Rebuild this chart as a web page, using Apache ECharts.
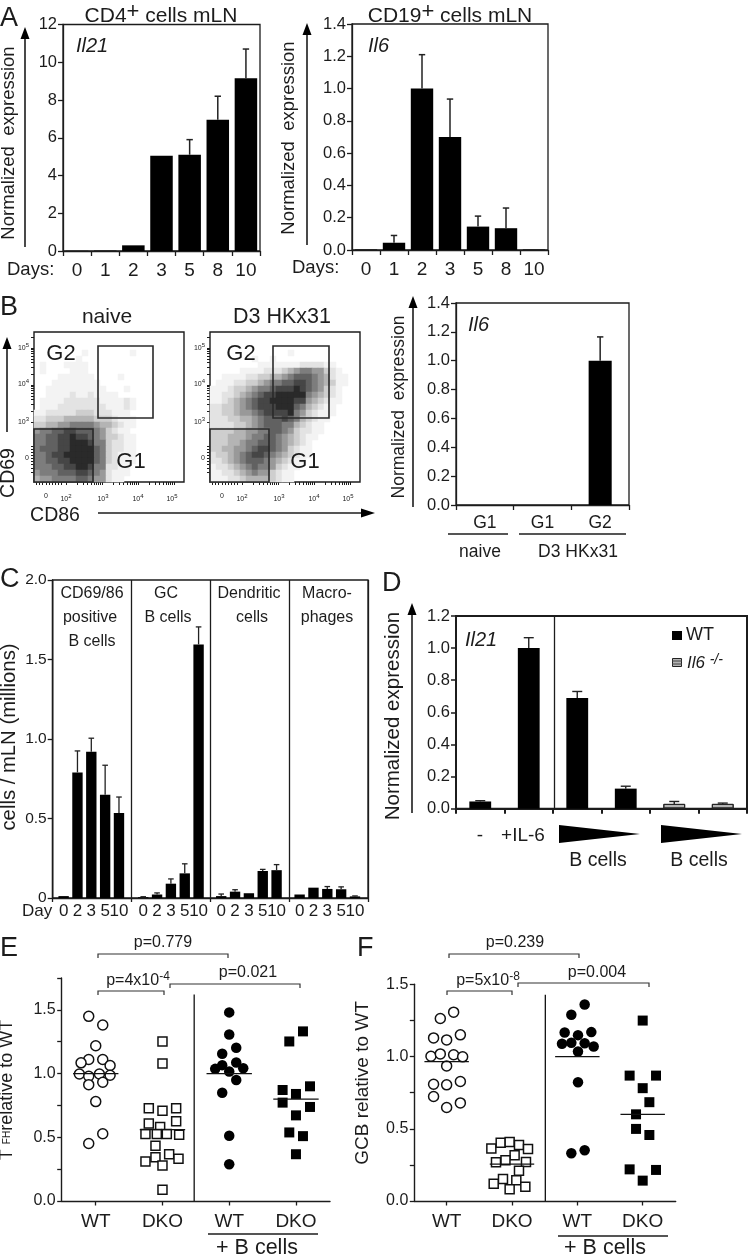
<!DOCTYPE html>
<html><head><meta charset="utf-8">
<style>html,body{margin:0;padding:0;background:#fff}#c{width:750px;height:1256px}</style>
<script src="https://cdn.jsdelivr.net/npm/echarts@6/dist/echarts.min.js"></script>
</head><body><div id="c"></div>
<script>
// ---------- Panel A ----------
const aDays = ['0','1','2','3','5','8','10'];
const aIl21 = [0.01,0.02,0.3,5.05,5.1,6.95,9.15];
const aIl21Top = [null,null,null,null,5.9,8.2,10.7];
const aIl6 = [0.003,0.045,1.0,0.7,0.145,0.135,0.003];
const aIl6Top = [null,0.09,1.21,0.935,0.21,0.26,null];
// ---------- Panel B: dot-plot density read by eye, digit = darkness 0..9, top row first ----------
const naiveDensity = [
'0000000000000000000000000','0000000000000000000000000','0000000000000000000000000',
'0000000010000000100000000','0000000100000000000000000','0100011110000000000000000',
'0100001110000000000000000','0000111111000010000000000','0001111111100000000000000',
'0011111111110001000000000','0011112112111100000000000','0111122222211112100000000',
'0111222222221112100000000','1122222333222111000000000','2233344444333211100000000',
'3344556666544321100000000','5667788777653211000000000','6677889887653321100000000',
'6677889998663221100000000','6777889999763221100000000','6678899999763211100000000',
'6677889999763211100000000','6667788998662211000000000','5666777887652111000000000',
'4556666776552110000000000'];
const d3Density = [
'0000000000000000000000000','0000000000000000000000000','0000000000000000000000000',
'0000000000000100000000000','0000000100100000000000000','0000000011111112222110000',
'0000011112223456655321000','0011112233445677765421100','0111223345667788765431100',
'1112334566788898765321000','1122345678899999654321000','1123456788999988543211000',
'2233456788899976432110000','2233455678888965321110000','2223344567778764321100000',
'2222334567776643211000000','3333445566776532211000000','3334445667765432110000000',
'3334456677765432100000000','3344556788765321100000000','2334567887654321100000000',
'2234567776543211000000000','1223456766532110000000000','1122345655321100000000000',
'1112234444321100000000000'];
const bGroups = ['G1','G1','G2'];
const bIl6 = [0,0,1.0];
const bIl6Top = [null,null,1.165];
// ---------- Panel C ----------
const cDays = ['0','2','3','5','10'];
const cCd6986 = [0.012,0.79,0.92,0.65,0.535];
const cCd6986Top = [null,0.925,1.005,0.835,0.635];
const cGc = [0.005,0.022,0.09,0.155,1.595];
const cGcTop = [0.008,0.032,0.12,0.215,1.705];
const cDend = [0.012,0.04,0.03,0.17,0.175];
const cDendTop = [0.025,0.052,null,0.18,0.21];
const cMacro = [0.022,0.065,0.057,0.055,0.01];
const cMacroTop = [null,null,0.072,0.07,0.013];
// ---------- Panel D ----------
const dCategories = ['-','+IL-6','B1','B2','B3','B4'];
const dWT = [0.045,1.0,0.69,0.125,null,null];
const dKO = [null,null,null,null,0.03,0.03];
const dTop = [0.05,1.065,0.73,0.14,0.045,0.035];
// ---------- Panel E ----------
const eGroups = {1:'WT',2:'DKO',3:'WT',4:'DKO'};
const eWTx = [0.895,1.105,1,0.895,1.105,0.78,1.215,0.755,0.895,1.055,1.215,0.895,1.105,1,1.105,0.895];
const eWTy = [1.449,1.381,1.218,1.11,1.11,1.084,1.063,0.997,0.979,0.997,0.987,0.913,0.932,0.78,0.528,0.451];
const eKOx = [2,2,1.795,2,2.205,1.795,2.205,1.965,1.745,1.915,2.065,2.25,1.895,1.895,2.1,1.745,2.24,2,2];
const eKOy = [1.252,1.079,0.727,0.709,0.727,0.609,0.625,0.58,0.525,0.525,0.525,0.52,0.433,0.344,0.367,0.31,0.331,0.278,0.089];
const eBWTx = [3,3,3.105,2.895,2.895,3.105,2.79,3,3.21,3.105,2.895,3,3];
const eBWTy = [1.48,1.307,1.202,1.155,1.066,1.087,1.037,1.016,1.042,0.95,0.85,0.512,0.289];
const eBKOx = [4.105,3.9,3.8,4.21,4,3.8,4.21,4,3.9,4.105,4];
const eBKOy = [1.331,1.252,0.871,0.9,0.84,0.772,0.738,0.672,0.538,0.509,0.367];
const eMeans = [1.0,0.56,1.0,0.8];
// ---------- Panel F ----------
const fWTx = [0.903,1.107,0.8,1,1.21,0.76,0.903,1.107,1.245,1,0.8,1,1.21,0.8,1.21,1];
const fWTy = [1.263,1.307,1.129,1.115,1.15,1.002,1.018,1.012,0.998,0.935,0.808,0.804,0.827,0.723,0.679,0.647];
const fKOx = [1.684,1.827,1.964,2.107,2.245,2.04,1.9,1.755,2.214,2.107,1.862,2.066,1.72,2.204,1.964];
const fKOy = [0.363,0.404,0.409,0.388,0.36,0.316,0.282,0.268,0.27,0.21,0.152,0.143,0.12,0.099,0.081];
const fBWTx = [3.112,2.908,2.806,3.01,3.214,2.765,2.908,3.112,3.25,3.01,3.01,3.112,2.908];
const fBWTy = [1.36,1.289,1.166,1.148,1.169,1.088,1.095,1.092,1.069,1.035,0.822,0.351,0.33];
const fBKOx = [4,3.8,4.204,4,4.102,3.898,3.898,4.102,3.8,4.204,4];
const fBKOy = [1.249,0.868,0.868,0.781,0.684,0.6,0.499,0.457,0.219,0.215,0.141];
const fMeans = [0.965,0.255,1.0,0.6];

// ---------- helpers ----------
const INK = '#1c1c1c', FONT = '"Liberation Sans", Arial, sans-serif';
const grid=[], xAxis=[], yAxis=[], series=[], graphic=[];
const lineS = (w=1.3)=>({show:true,lineStyle:{color:INK,width:w}});
const tickS = (len=5,w=1.3)=>({show:true,length:len,lineStyle:{color:INK,width:w}});
const labS = (size,margin=6)=>({show:true,color:INK,fontSize:size,fontFamily:FONT,margin});
function addGrid(left,top,right,bottom,border=1.3,show=true){
  grid.push({left,top,width:right-left,height:bottom-top,show,borderColor:INK,borderWidth:border,backgroundColor:'transparent'});
  return grid.length-1;
}
function valY(g,max,interval,size,fmt,w=1.3){
  yAxis.push({type:'value',gridIndex:g,min:0,max,interval,axisLine:lineS(w),axisTick:tickS(5,w),splitLine:{show:false},
    axisLabel:Object.assign(labS(size,6),{formatter:fmt||(v=>v.toFixed(1))})});
  return yAxis.length-1;
}
function catX(g,data,size,labelShow=true,w=1.3,margin=10){
  xAxis.push({type:'category',gridIndex:g,data,axisLine:lineS(w),axisTick:Object.assign(tickS(5,w),{alignWithLabel:false}),
    splitLine:{show:false},axisLabel:Object.assign(labS(size,margin),{show:labelShow,interval:0,hideOverlap:false})});
  return xAxis.length-1;
}
function bars(xi,yi,data,gap,color='#000',extra={}){
  series.push(Object.assign({type:'bar',xAxisIndex:xi,yAxisIndex:yi,data,barCategoryGap:gap,
    itemStyle:{color},z:3},extra));
}
function errors(xi,yi,base,tops,cap=3.2,w=1.5){
  const data=[]; tops.forEach((t,i)=>{ if(t!=null) data.push([i,base[i]==null?0:base[i],t]); });
  series.push({type:'custom',xAxisIndex:xi,yAxisIndex:yi,z:4,clip:false,data,encode:{x:0,y:[1,2]},
    renderItem(p,api){
      const a=api.coord([api.value(0),api.value(1)]), b=api.coord([api.value(0),api.value(2)]);
      const st={stroke:'#222',lineWidth:w,fill:null};
      return {type:'group',children:[
        {type:'line',shape:{x1:a[0],y1:a[1],x2:b[0],y2:b[1]},style:st},
        {type:'line',shape:{x1:b[0]-cap,y1:b[1],x2:b[0]+cap,y2:b[1]},style:st}]};
    }});
}
function T(x,y,text,size,o={}){
  graphic.push({type:'text',x,y,rotation:o.rot||0,z:100,silent:true,style:{text,fill:o.fill||INK,
    font:(o.italic?'italic ':'')+size+'px '+FONT,align:o.align||'center',verticalAlign:'middle',rich:o.rich}});
}
const RV=Math.PI/2;
function L(x1,y1,x2,y2,w=1.3,c=INK){graphic.push({type:'line',z:100,silent:true,shape:{x1,y1,x2,y2},style:{stroke:c,lineWidth:w}});}
function arrowUp(x,tip,bottom){L(x,bottom,x,tip+8,1.6);
  graphic.push({type:'polygon',z:100,silent:true,shape:{points:[[x,tip],[x-4.5,tip+12],[x+4.5,tip+12]]},style:{fill:'#000'}});}
function bracket(x1,x2,y,leg=4){graphic.push({type:'polyline',z:100,silent:true,shape:{points:[[x1,y+leg],[x1,y],[x2,y],[x2,y+leg]]},style:{stroke:'#333',lineWidth:1.2,fill:null}});}
function rect(x,y,w,h,lw=1.6){graphic.push({type:'rect',z:100,silent:true,shape:{x,y,width:w,height:h},style:{stroke:'#2a2a2a',lineWidth:lw,fill:null}});}
function wedge(x1,x2,top,bot){const m=(top+bot)/2-0;graphic.push({type:'polygon',z:100,silent:true,shape:{points:[[x1,top],[x2,m],[x1,bot]]},style:{fill:'#000'}});}

// ---------- Panel A ----------
{ const g=addGrid(63,24.5,260,251), x=catX(g,aDays,19), y=valY(g,12,2,16.5,v=>String(v));
  bars(x,y,aIl21,'20%'); errors(x,y,aIl21,aIl21Top);
  const g2=addGrid(352,24,548,250), x2=catX(g2,aDays,19), y2=valY(g2,1.4,0.2,16.5);
  bars(x2,y2,aIl6,'20%'); errors(x2,y2,aIl6,aIl6Top);
}
T(0,19,'A',27,{align:'left'});
T(161,16,'CD4{s|+} cells mLN',21,{rich:{s:{fontSize:22,fontFamily:FONT,fill:INK,padding:[0,0,9,0]}}});
T(450,16,'CD19{s|+} cells mLN',21,{rich:{s:{fontSize:22,fontFamily:FONT,fill:INK,padding:[0,0,9,0]}}});
T(76,46,'Il21',20,{align:'left',italic:true});
T(368,46,'Il6',20,{align:'left',italic:true});
T(9,143,'Normalized  expression',18.5,{rot:RV});
T(289,138,'Normalized  expression',18.5,{rot:RV});
T(7,270,'Days:',18.5,{align:'left'});
T(292,268,'Days:',18.5,{align:'left'});
arrowUp(25,27,247); arrowUp(307,23,245);

// ---------- Panel B dot plots ----------
const cyto=[...Array(25).keys()].map(String);
const cytoLabel={12:'{b|0}',32:'{b|10}{s|2}',69:'{b|10}{s|3}',104:'{b|10}{s|4}',138:'{b|10}{s|5}',24:'{b|0}',60:'{b|10}{s|3}',98:'{b|10}{s|4}',134:'{b|10}{s|5}'};
const cytoXMajor=[12,32,69,104,138], cytoYMajor=[24,60,98,134];
const cytoDecade=[1,2,3,4,5,6,7,8,9].map(k=>Math.log10(k));
const cytoRich={b:{fontSize:7,fontFamily:FONT,color:INK},s:{fontSize:6,fontFamily:FONT,color:INK,padding:[0,0,6,0]}};
const heatIdx=[];
function density(left,top,rows){
  const g=addGrid(left,top,left+150,top+150,1.4);
  xAxis.push({type:'category',gridIndex:g,data:cyto,show:false}); const xc=xAxis.length-1;
  yAxis.push({type:'category',gridIndex:g,data:cyto,inverse:true,show:false}); const yc=yAxis.length-1;
  const data=[]; rows.forEach((r,j)=>[...r].forEach((c,i)=>{ if(c!=='0') data.push([i,j,+c]); }));
  heatIdx.push(series.length);
  series.push({type:'heatmap',xAxisIndex:xc,yAxisIndex:yc,data,z:1,itemStyle:{borderWidth:0}});
  const xt=[], yt=[];
  [-1,0,1,2,3].forEach(d=>cytoDecade.forEach(f=>{const v=32+36*d+36*f; if(v>=0&&v<=150&&d>=0) xt.push(v);}));
  [0,1,2].forEach(d=>cytoDecade.forEach(f=>{const v=60+37*d+37*f; if(v<=150) yt.push(v);}));
  xAxis.push({type:'value',gridIndex:g,min:0,max:150,position:'bottom',axisLine:{show:false},splitLine:{show:false},
    axisTick:{show:true,length:3,customValues:[2,5,8,12,15,18,21,24,27].concat(xt),lineStyle:{color:INK,width:1}},
    axisLabel:{show:true,customValues:cytoXMajor,margin:11,fontSize:7,rich:cytoRich,formatter:v=>cytoLabel[v]}});
  yAxis.push({type:'value',gridIndex:g,min:0,max:150,position:'left',axisLine:{show:false},splitLine:{show:false},
    axisTick:{show:true,length:3,customValues:[10,14,18,21,24,27,30,33,36].concat(yt),lineStyle:{color:INK,width:1}},
    axisLabel:{show:true,customValues:cytoYMajor,margin:5,fontSize:7,rich:cytoRich,formatter:v=>cytoLabel[v]}});
}
density(34,332,naiveDensity); density(210,332,d3Density);
rect(98,346,55,72); rect(34,429,59,53); rect(273,346,56,72); rect(210,429,59,53);
T(0,308,'B',27,{align:'left'});
T(107,317,'naive',21); T(282,317,'D3 HKx31',21.5);
T(61,354,'G2',22); T(131,462,'G1',22); T(241,354,'G2',22); T(305,462,'G1',22);
T(9,473,'CD69',19.5,{rot:RV}); T(55,516,'CD86',19.5);
arrowUp(7,337,432);
L(98,513,365,513,1.6);
graphic.push({type:'polygon',z:100,silent:true,shape:{points:[[375,513],[361,508.5],[361,517.5]]},style:{fill:'#000'}});

// ---------- Panel B bar ----------
{ const g=addGrid(456,303,629,505), x=catX(g,bGroups,17.5,true,1.3,9), y=valY(g,1.4,0.2,16.5);
  bars(x,y,bIl6,'60%'); errors(x,y,bIl6,bIl6Top); }
T(468,325,'Il6',20,{align:'left',italic:true});
T(399,407,'Normalized  expression',17.5,{rot:RV});
arrowUp(413,296,507);
L(448,534,508,534); L(519,534,626,534);
T(480,552,'naive',17.5); T(578,552,'D3 HKx31',17.5);

// ---------- Panel C ----------
{ const g=addGrid(52.7,580,368,898);
  xAxis.push({type:'value',gridIndex:g,min:0,max:4,interval:1,axisLine:lineS(),axisTick:tickS(4),
    axisLabel:{show:false},splitLine:{show:true,lineStyle:{color:INK,width:1.3}}});
  const xm=xAxis.length-1;
  const ym=valY(g,2,0.5,15.5,v=>v===0?'0':v.toFixed(1));
  series.push({type:'custom',xAxisIndex:xm,yAxisIndex:ym,data:[],renderItem(){return null;}});
  const secs=[[56.7,cCd6986,cCd6986Top],[136.3,cGc,cGcTop],[214.3,cDend,cDendTop],[292.7,cMacro,cMacroTop]];
  secs.forEach(([l,v,t])=>{
    const gi=addGrid(l,580,l+69.2,898,0,false);
    xAxis.push({type:'category',gridIndex:gi,data:cDays,axisLine:{show:false},axisTick:{show:false},splitLine:{show:false},
      axisLabel:Object.assign(labS(17,5),{interval:0,hideOverlap:false})});
    const xi=xAxis.length-1;
    yAxis.push({type:'value',gridIndex:gi,min:0,max:2,show:false}); const yi=yAxis.length-1;
    bars(xi,yi,v,'25%'); errors(xi,yi,v,t,2.8,1.3);
  });
}
T(0,580,'C',27,{align:'left'});
T(9,737,'cells / mLN (millions)',20.3,{rot:RV});
T(22,911,'Day',17,{align:'left'});
T(92,594,'CD69/86',16); T(90,618,'positive',16); T(92,642,'B cells',16);
T(166,594,'GC',16); T(168,618,'B cells',16);
T(249,594,'Dendritic',16); T(252,618,'cells',16);
T(327,594,'Macro-',16); T(327,618,'phages',16);

// ---------- Panel D ----------
{ const g=addGrid(456,616,747,808.7,2), x=catX(g,dCategories,18,false,2);
  const y=valY(g,1.2,0.2,16.5,null,1.5);
  bars(x,y,dWT,'55%','#000',{stack:'d'});
  bars(x,y,dKO,'55%','#b5b5b5',{stack:'d',itemStyle:{color:'#b5b5b5',borderColor:'#222',borderWidth:1,
    decal:{symbol:'rect',symbolSize:1,dashArrayX:[[1,0]],dashArrayY:[1,1.5],color:'#555'}}});
  errors(x,y,dTop.map((t,i)=>dWT[i]!=null?dWT[i]:dKO[i]),dTop,5,1.4);
}
L(554.5,616,554.5,808.7,1.3);
T(382,584,'D',27,{align:'left'});
T(465,640,'Il21',20,{align:'left',italic:true});
T(393,716,'Normalized expression',20.5,{rot:RV});
arrowUp(412,603,813);
graphic.push({type:'rect',z:100,silent:true,shape:{x:672,y:631,width:10,height:9},style:{fill:'#000'}});
graphic.push({type:'rect',z:100,silent:true,shape:{x:672.5,y:658.5,width:9,height:8},style:{fill:'#b5b5b5',stroke:'#222',lineWidth:1}});
L(672,661,682,661,1,'#444'); L(672,664,682,664,1,'#444');
T(686,635,'WT',18,{align:'left'});
T(687,663,'Il6 {s|-/-}',17,{align:'left',italic:true,rich:{s:{fontSize:14,fontFamily:FONT,fontStyle:'italic',fill:INK,padding:[0,0,6,0]}}});
T(480,836,'-',19); T(523,836,'+IL-6',19);
wedge(559,640,825,843); wedge(661,742,825,843);
T(598,861,'B cells',19.5); T(699,861,'B cells',19.5);

// ---------- Panels E, F ----------
function strip(g,xmin,xmax,ymax,ySize,means,sepX,sepTop,halfW,sets){
  xAxis.push({type:'value',gridIndex:g,min:xmin,max:xmax,axisLine:lineS(1.4),splitLine:{show:false},
    axisTick:Object.assign(tickS(4.5,1.3),{customValues:[1,2,3,4]}),
    axisLabel:Object.assign(labS(19,11),{customValues:[1,2,3,4],formatter:v=>eGroups[v]})});
  const x=xAxis.length-1;
  yAxis.push({type:'value',gridIndex:g,min:0,max:ymax,interval:0.25,axisLine:lineS(1.4),axisTick:tickS(4.5,1.3),splitLine:{show:false},
    axisLabel:Object.assign(labS(ySize,6),{formatter:v=>Number.isInteger(v*2)?v.toFixed(1):''})});
  const y=yAxis.length-1;
  sets.forEach(([xs,ys,sym,fill,size])=>series.push({type:'scatter',xAxisIndex:x,yAxisIndex:y,symbol:sym,symbolSize:size,z:3,
    data:xs.map((v,i)=>[v,ys[i]]),itemStyle:{color:fill,borderColor:'#111',borderWidth:fill==='#fff'?1.5:0,opacity:1}}));
  series.push({type:'custom',xAxisIndex:x,yAxisIndex:y,z:5,data:means.map((m,i)=>[i+1,m]),renderItem(p,api){
    const a=api.coord([api.value(0)-halfW,api.value(1)]),b=api.coord([api.value(0)+halfW,api.value(1)]);
    return {type:'line',shape:{x1:a[0],y1:a[1],x2:b[0],y2:b[1]},style:{stroke:'#111',lineWidth:1.3}};}});
  series.push({type:'custom',xAxisIndex:x,yAxisIndex:y,z:5,data:[[sepX,sepTop]],renderItem(p,api){
    const a=api.coord([api.value(0),api.value(1)]),b=api.coord([api.value(0),0]);
    return {type:'line',shape:{x1:a[0],y1:a[1],x2:b[0],y2:b[1]},style:{stroke:'#111',lineWidth:1.3}};}});
}
{ const g=addGrid(61.7,978,330,1201,0,false);
  strip(g,0.49,4.51,1.75,16,eMeans,2.475,1.62,0.34,[[eWTx,eWTy,'circle','#fff',10],[eKOx,eKOy,'rect','#fff',9],[eBWTx,eBWTy,'circle','#000',10.5],[eBKOx,eBKOy,'rect','#000',10]]);
  const g2=addGrid(414.3,984.3,675.7,1201,0,false);
  strip(g2,0.505,4.505,1.5,16,fMeans,2.51,1.427,0.34,[[fWTx,fWTy,'circle','#fff',10],[fKOx,fKOy,'rect','#fff',9],[fBWTx,fBWTy,'circle','#000',10.5],[fBKOx,fBKOy,'rect','#000',10]]);
}
const supR={s:{fontSize:12,fontFamily:FONT,fill:INK,padding:[0,0,9,0]}};
T(0,949,'E',27,{align:'left'}); T(357,949,'F',27,{align:'left'});
T(7,1090,'T {s|FH}relative to WT',18,{rot:RV,rich:{s:{fontSize:10,fontFamily:FONT,fill:INK}}});
T(363,1083,'GCB relative to WT',19,{rot:RV});
bracket(98,228,954); bracket(98,164,991); bracket(170,300,984);
T(163,943,'p=0.779',16); T(138,981,'p=4x10{s|-4}',16,{rich:supR}); T(248,973,'p=0.021',16);
bracket(449,579,954); bracket(447,512,991); bracket(518,649,983);
T(515,943,'p=0.239',16); T(488,981,'p=5x10{s|-8}',16,{rich:supR}); T(597,973,'p=0.004',16);
L(208,1234,318,1234); L(558,1236,668,1236);
T(257,1248,'+ B cells',21.5); T(605,1248,'+ B cells',21.5);

// ---------- chart ----------
const chart=echarts.init(document.getElementById('c'),null,{renderer:'canvas'});
chart.setOption({animation:false,backgroundColor:'#fff',textStyle:{fontFamily:FONT},grid,xAxis,yAxis,series,
  visualMap:[{type:'continuous',show:false,seriesIndex:heatIdx,dimension:2,min:0,max:9,
    inRange:{color:['#ffffff','#f3f3f3','#e3e3e3','#cecece','#b4b4b4','#999999','#7d7d7d','#616161','#464646','#2a2a2a']}}],
  graphic:{elements:graphic}});
</script></body></html>
